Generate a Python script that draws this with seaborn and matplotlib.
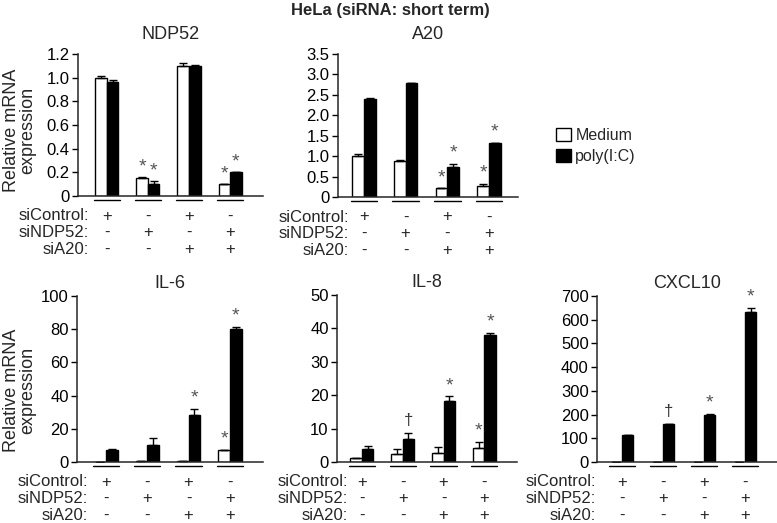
import matplotlib
matplotlib.use("Agg")
import matplotlib.pyplot as plt
import matplotlib.transforms as mtransforms
from matplotlib.patches import Patch
import seaborn as sns
import pandas as pd
import numpy as np

# ---------------- data ----------------
groups = ["1", "2", "3", "4"]
treatments = ["Medium", "poly(I:C)"]
row_labels = ["siControl:", "siNDP52:", "siA20:"]
sicontrol = ["+", "-", "+", "-"]
sindp52 = ["-", "+", "-", "+"]
sia20 = ["-", "-", "+", "+"]

ndp52_medium = [1.00, 0.15, 1.10, 0.10]
ndp52_medium_err = [0.01, 0.01, 0.025, 0.0]
ndp52_poly = [0.96, 0.10, 1.10, 0.20]
ndp52_poly_err = [0.02, 0.025, 0.01, 0.0]
ndp52_medium_mark = ["", "*", "", "*"]
ndp52_poly_mark = ["", "*", "", "*"]

a20_medium = [1.00, 0.87, 0.21, 0.26]
a20_medium_err = [0.05, 0.03, 0.0, 0.07]
a20_poly = [2.40, 2.80, 0.74, 1.31]
a20_poly_err = [0.02, 0.0, 0.07, 0.02]
a20_medium_mark = ["", "", "*", "*"]
a20_poly_mark = ["", "", "*", "*"]

il6_medium = [0.3, 0.8, 0.6, 7.4]
il6_medium_err = [0.0, 0.0, 0.0, 0.0]
il6_poly = [7.3, 10.5, 28.6, 80.0]
il6_poly_err = [0.4, 4.0, 3.5, 1.5]
il6_medium_mark = ["", "", "", "*"]
il6_poly_mark = ["", "", "*", "*"]

il8_medium = [1.1, 2.5, 2.8, 4.2]
il8_medium_err = [0.0, 1.3, 1.7, 1.8]
il8_poly = [3.8, 7.0, 18.3, 38.1]
il8_poly_err = [1.0, 1.8, 1.4, 0.6]
il8_medium_mark = ["", "", "", "*"]
il8_poly_mark = ["", "\u2020", "*", "*"]

cxcl10_medium = [1.0, 1.0, 1.0, 1.0]
cxcl10_medium_err = [0.0, 0.0, 0.0, 0.0]
cxcl10_poly = [112, 162, 198, 633]
cxcl10_poly_err = [2, 0, 5, 18]
cxcl10_medium_mark = ["", "", "", ""]
cxcl10_poly_mark = ["", "\u2020", "*", "*"]

panels = [
    ("NDP52", ndp52_medium, ndp52_medium_err, ndp52_poly, ndp52_poly_err,
     ndp52_medium_mark, ndp52_poly_mark, [0, 0.2, 0.4, 0.6, 0.8, 1.0, 1.2],
     ["0", "0.2", "0.4", "0.6", "0.8", "1.0", "1.2"]),
    ("A20", a20_medium, a20_medium_err, a20_poly, a20_poly_err,
     a20_medium_mark, a20_poly_mark, [0, 0.5, 1.0, 1.5, 2.0, 2.5, 3.0, 3.5],
     ["0", "0.5", "1.0", "1.5", "2.0", "2.5", "3.0", "3.5"]),
    ("IL-6", il6_medium, il6_medium_err, il6_poly, il6_poly_err,
     il6_medium_mark, il6_poly_mark, [0, 20, 40, 60, 80, 100],
     ["0", "20", "40", "60", "80", "100"]),
    ("IL-8", il8_medium, il8_medium_err, il8_poly, il8_poly_err,
     il8_medium_mark, il8_poly_mark, [0, 10, 20, 30, 40, 50],
     ["0", "10", "20", "30", "40", "50"]),
    ("CXCL10", cxcl10_medium, cxcl10_medium_err, cxcl10_poly, cxcl10_poly_err,
     cxcl10_medium_mark, cxcl10_poly_mark, [0, 100, 200, 300, 400, 500, 600, 700],
     ["0", "100", "200", "300", "400", "500", "600", "700"]),
]

# ---------------- layout (pixels) ----------------
W, H = 777, 523
# (left, right, top, bottom, xmin, xmax, label_x, ylabel_center_y)
layout = [
    (78, 263, 54, 196, -0.70, 3.80, -0.44, 130),
    (338, 518, 54, 197, -0.62, 3.70, -0.36, None),
    (77, 263, 296, 462, -0.70, 3.80, -0.44, 390),
    (337, 517, 295, 462, -0.61, 3.80, -0.34, None),
    (597, 777, 296, 462, -0.61, 3.78, -0.63, None),
]

sns.set_theme(style="ticks")
plt.rcParams["font.family"] = ["Liberation Sans", "DejaVu Sans"]
plt.rcParams["axes.linewidth"] = 1.1

fig = plt.figure(figsize=(W / 100, H / 100), dpi=100)

bar_width_total = 0.56
colors = {"Medium": "white", "poly(I:C)": "black"}
FS = 12

for (title, med, med_err, poly, poly_err, med_mark, poly_mark, yt, ytl), \
        (l, r, t, b, xmin, xmax, lab_x, ylab_y) in zip(panels, layout):
    ax = fig.add_axes([l / W, 1 - b / H, (r - l) / W, (b - t) / H])
    df = pd.DataFrame({
        "group": groups * 2,
        "treatment": [treatments[0]] * 4 + [treatments[1]] * 4,
        "value": list(med) + list(poly),
    })
    sns.barplot(data=df, x="group", y="value", hue="treatment",
                hue_order=treatments, palette=colors, order=groups,
                width=bar_width_total, errorbar=None, edgecolor="black",
                linewidth=1.0, ax=ax, legend=False, saturation=1)
    xs = np.arange(len(groups))
    off = bar_width_total / 4
    ymax = yt[-1]
    for dx, vals, errs, marks in ((-off, med, med_err, med_mark),
                                  (off, poly, poly_err, poly_mark)):
        vals = np.asarray(vals, float)
        errs = np.asarray(errs, float)
        ax.errorbar(xs + dx, vals, yerr=[np.zeros_like(errs), errs],
                    fmt="none", ecolor="black", elinewidth=1.0, capsize=3,
                    capthick=1.0)
        for x, v, e, m in zip(xs + dx, vals, errs, marks):
            if m:
                col = "#555555" if m == "*" else "#333333"
                fs = 14 if m == "*" else 12
                ax.annotate(m, (x, v + e), xytext=(0, 1.5 if m == "*" else 3),
                            textcoords="offset points", ha="center",
                            va="bottom", fontsize=fs, color=col,
                            annotation_clip=False)
    ax.set_xlim(xmin, xmax)
    ax.set_ylim(0, ymax)
    ax.set_yticks(yt)
    ax.set_yticklabels(ytl)
    ax.set_xticks([])
    ax.set_xlabel("")
    ax.set_ylabel("")
    ax.tick_params(axis="y", direction="out", length=4, width=1.0,
                   labelsize=FS, pad=2, colors="black")
    sns.despine(ax=ax)
    ax.set_title(title, fontsize=13, pad=11 if t < 100 else 6)
    if ylab_y is not None:
        fig.text(20 / W, 1 - ylab_y / H, "Relative mRNA\nexpression",
                 rotation=90, ha="center", va="center", fontsize=13,
                 linespacing=0.95)

    hpx = b - t
    trans = mtransforms.blended_transform_factory(ax.transData, ax.transAxes)
    # underline per group
    uy = -4 / hpx
    for x in xs:
        ax.plot([x - 0.32, x + 0.32], [uy, uy], color="black", lw=1.0,
                transform=trans, clip_on=False)
    # condition rows
    for ri, (lab, row) in enumerate(zip(row_labels, (sicontrol, sindp52, sia20))):
        yy = -(20 + 16.8 * ri) / hpx
        ax.text(lab_x, yy, lab, transform=trans, ha="right", va="center",
                fontsize=FS)
        for x, s in zip(xs, row):
            ax.text(x, yy, s, transform=trans, ha="center", va="center",
                    fontsize=FS)

fig.text(390 / W, 1 - 11 / H, "HeLa (siRNA: short term)", ha="center",
         va="center", fontsize=12, fontweight="bold")

handles = [Patch(facecolor="white", edgecolor="black", label="Medium"),
           Patch(facecolor="black", edgecolor="black", label="poly(I:C)")]
fig.legend(handles=handles, loc="upper left",
           bbox_to_anchor=(545 / W, 1 - 117 / H), frameon=False,
           fontsize=11.5, handlelength=0.9, handleheight=0.9,
           handletextpad=0.3, labelspacing=0.35, borderpad=0.2)

fig.savefig("out.png", dpi=100)
